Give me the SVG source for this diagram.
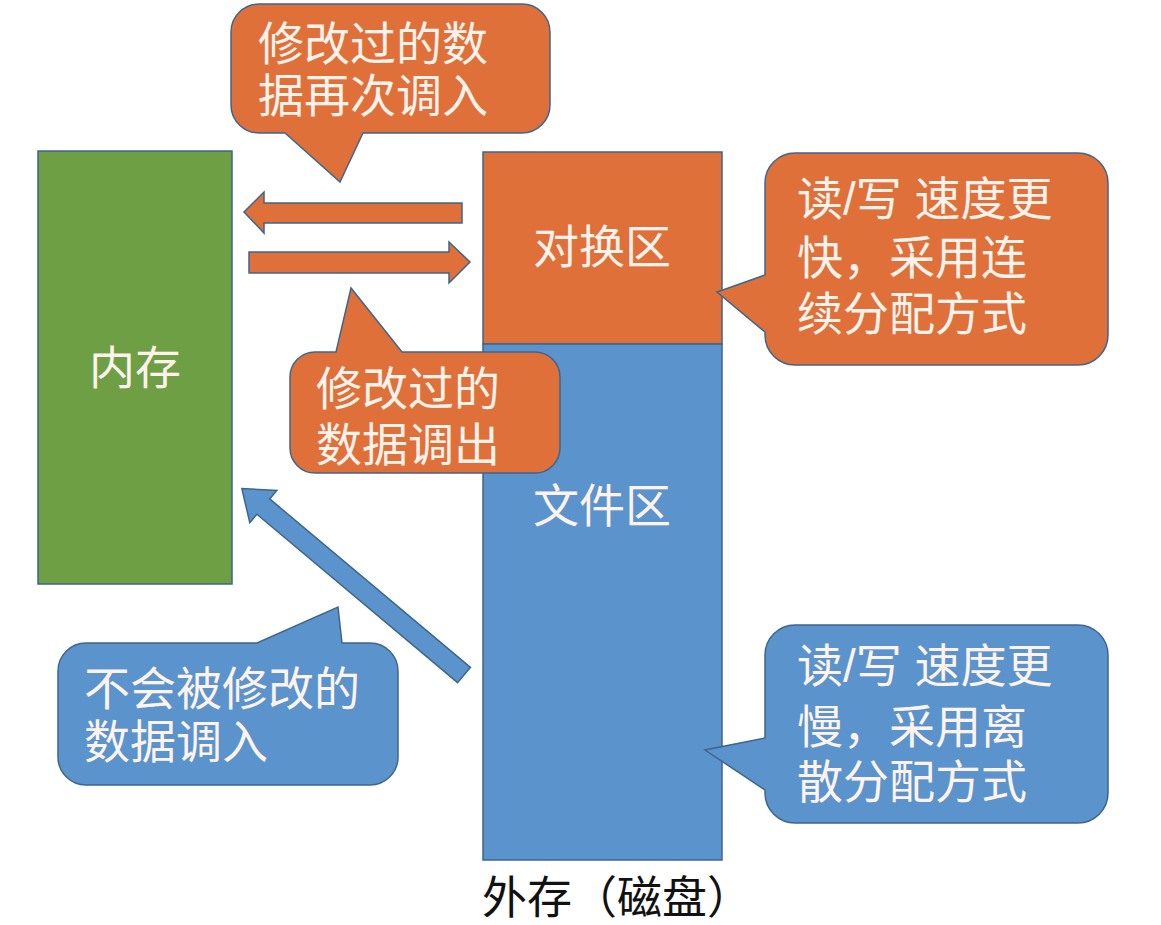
<svg xmlns="http://www.w3.org/2000/svg" width="1161" height="925" viewBox="0 0 1161 925">
<style>
.sh{stroke:#3e668c;stroke-width:1.5;stroke-linejoin:miter}
.or{fill:#e0703a}
.bl{fill:#5b93cc}
.gr{fill:#6e9f45}
.t{font-family:"Noto Sans CJK SC","Noto Sans",sans-serif;font-size:46px;fill:#fdf3ec}
.m{font-family:"Liberation Sans","Noto Sans CJK SC",sans-serif;font-size:46px;fill:#fdf3ec}
.c{text-anchor:middle;dominant-baseline:central}
.k{font-family:"Noto Sans CJK SC","Noto Sans",sans-serif;font-size:45px;fill:#111}
</style>
<rect width="1161" height="925" fill="#ffffff"/>
<g id="memory">
<rect class="sh gr" x="38" y="151" width="194" height="433"/>
<text class="t c" x="135" y="364">内存</text>
</g>
<g id="swap-area">
<rect class="sh or" x="483" y="152" width="239" height="192"/>
<text class="t c" x="602" y="243">对换区</text>
</g>
<g id="file-area">
<rect class="sh bl" x="483" y="344" width="239" height="516"/>
<text class="t c" x="602" y="502">文件区</text>
</g>
<g id="connectors">
<polygon class="sh or" points="462,203 264,203 264,192 244,212 264,233 264,223 462,223"/>
<polygon class="sh or" points="249,252 449,252 449,242 470,262 449,283 449,273 249,273"/>
<polygon class="sh bl" transform="translate(464,675) rotate(-140)" points="0,-10 262,-10 262,-21 290,0 262,21 262,10 0,10"/>
</g>
<g id="callout-swap-in">
<path class="sh or" d="M259 4 H522 A28 28 0 0 1 550 32 V105 A28 28 0 0 1 522 133 H363 L340 182 L285 133 H259 A28 28 0 0 1 231 105 V32 A28 28 0 0 1 259 4 Z"/>
<text class="m" x="258" y="60">修改过的数</text>
<text class="m" x="258" y="112">据再次调入</text>
</g>
<g id="callout-swap-out">
<path class="sh or" d="M315 352 H336 L351 288 L402 352 H535 A25 25 0 0 1 560 377 V448 A25 25 0 0 1 535 473 H315 A25 25 0 0 1 290 448 V377 A25 25 0 0 1 315 352 Z"/>
<text class="m" x="316" y="405">修改过的</text>
<text class="m" x="316" y="461">数据调出</text>
</g>
<g id="callout-swap-speed">
<path class="sh or" d="M795 153 H1078 A30 30 0 0 1 1108 183 V335 A30 30 0 0 1 1078 365 H795 A30 30 0 0 1 765 335 V332 L717 292 L765 275 V183 A30 30 0 0 1 795 153 Z"/>
<text class="m" x="797" y="215">读/写 速度更</text>
<text class="m" x="797" y="274">快，采用连</text>
<text class="m" x="797" y="330">续分配方式</text>
</g>
<g id="callout-file-speed">
<path class="sh bl" d="M795 625 H1078 A30 30 0 0 1 1108 655 V793 A30 30 0 0 1 1078 823 H795 A30 30 0 0 1 765 793 V790 L705 750 L765 738 V655 A30 30 0 0 1 795 625 Z"/>
<text class="m" x="797" y="682">读/写 速度更</text>
<text class="m" x="797" y="743">慢，采用离</text>
<text class="m" x="797" y="798">散分配方式</text>
</g>
<g id="callout-file-in">
<path class="sh bl" d="M86 643 H257 L338 607 L342 643 H370 A28 28 0 0 1 398 671 V757 A28 28 0 0 1 370 785 H86 A28 28 0 0 1 58 757 V671 A28 28 0 0 1 86 643 Z"/>
<text class="m" x="84" y="705">不会被修改的</text>
<text class="m" x="84" y="758">数据调入</text>
</g>
<g id="caption">
<text class="k" x="482 527 572 617 662 707" y="914">外存（磁盘）</text>
</g>
</svg>
